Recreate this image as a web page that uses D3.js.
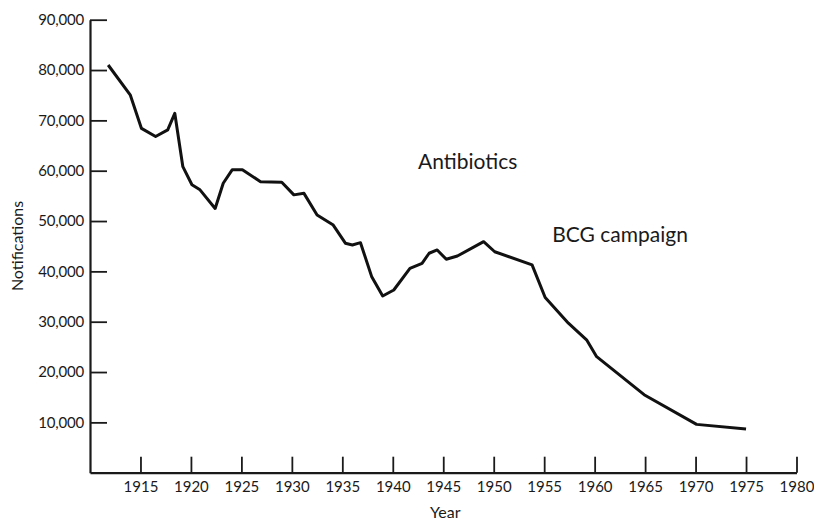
<!DOCTYPE html>
<html>
<head>
<meta charset="utf-8">
<script src="https://cdn.jsdelivr.net/npm/d3@7"></script>
<style>
  html, body { margin: 0; padding: 0; background: #fff; }
  svg { display: block; }
  text { font-family: Lato, "Open Sans", sans-serif; fill: #1a1a1a; }
</style>
</head>
<body>
<svg id="chart" width="814" height="521"></svg>
<script>
// Data (year, notifications)
const years = [1911.8, 1914.0, 1915.1, 1916.5, 1917.7, 1918.4, 1919.2, 1920.1, 1920.9, 1922.4,
               1923.2, 1924.1, 1925.1, 1926.9, 1929.0, 1930.2, 1931.2, 1932.5, 1934.1, 1935.3,
               1936.0, 1936.8, 1937.9, 1939.0, 1940.1, 1941.7, 1942.9, 1943.6, 1944.4, 1945.3,
               1946.4, 1949.0, 1950.1, 1953.8, 1955.1, 1957.4, 1959.2, 1960.2, 1964.9, 1970.1,
               1975.0];
const notifications = [81000, 75000, 68400, 66800, 68100, 71400, 60800, 57200, 56200, 52500,
               57500, 60200, 60200, 57800, 57700, 55200, 55500, 51200, 49200, 45600,
               45250, 45700, 39000, 35100, 36300, 40600, 41600, 43600, 44250, 42400,
               43050, 45900, 43900, 41300, 34800, 29700, 26400, 23050, 15500, 9600,
               8700];
const xTicks = [1915, 1920, 1925, 1930, 1935, 1940, 1945, 1950, 1955, 1960, 1965, 1970, 1975, 1980];
const yTicks = [10000, 20000, 30000, 40000, 50000, 60000, 70000, 80000, 90000];
const annotations = [
  { label: "Antibiotics", year: 1942.5, value: 60300 },
  { label: "BCG campaign", year: 1955.8, value: 45800 }
];

const svg = d3.select("#chart");
const x = d3.scaleLinear().domain([1910, 1980]).range([90, 796.5]);
const y = d3.scaleLinear().domain([0, 90000]).range([472.7, 19.7]);

const fmt = d3.format(",");

// Y axis
const yAxis = svg.append("g")
  .attr("transform", `translate(${x(1910)},0)`)
  .call(d3.axisLeft(y).tickValues(yTicks).tickFormat(fmt).tickSizeInner(-17).tickSizeOuter(0).tickPadding(6));
yAxis.select(".domain").attr("stroke", "#1a1a1a").attr("stroke-width", 2.2);
yAxis.selectAll(".tick line").attr("stroke", "#1a1a1a").attr("stroke-width", 1.8);
yAxis.selectAll(".tick text").attr("font-size", 15).attr("font-family", "Lato, sans-serif").attr("fill", "#1a1a1a").attr("letter-spacing", -0.2);

// X axis
const xAxis = svg.append("g")
  .attr("transform", `translate(0,${y(0)})`)
  .call(d3.axisBottom(x).tickValues(xTicks).tickFormat(d3.format("d")).tickSizeInner(-16).tickSizeOuter(0).tickPadding(9));
xAxis.select(".domain").attr("stroke", "#1a1a1a").attr("stroke-width", 2.2);
xAxis.selectAll(".tick line").attr("stroke", "#1a1a1a").attr("stroke-width", 1.8);
xAxis.selectAll(".tick text").attr("font-size", 15).attr("font-family", "Lato, sans-serif").attr("fill", "#1a1a1a");

// Axis titles
svg.append("text")
  .attr("x", x(1945.2)).attr("y", 518)
  .attr("text-anchor", "middle").attr("font-size", 16)
  .text("Year");
svg.append("text")
  .attr("transform", `translate(23,${246}) rotate(-90)`)
  .attr("text-anchor", "middle").attr("font-size", 16)
  .text("Notifications");

// Line
const line = d3.line().x((d, i) => x(years[i])).y(d => y(d));
svg.append("path")
  .datum(notifications)
  .attr("fill", "none")
  .attr("stroke", "#111")
  .attr("stroke-width", 3)
  .attr("stroke-linejoin", "round")
  .attr("d", line);

// Annotations
svg.selectAll(".anno").data(annotations).enter().append("text")
  .attr("class", "anno")
  .attr("x", d => x(d.year)).attr("y", d => y(d.value))
  .attr("font-size", 21)
  .text(d => d.label);
</script>
</body>
</html>
